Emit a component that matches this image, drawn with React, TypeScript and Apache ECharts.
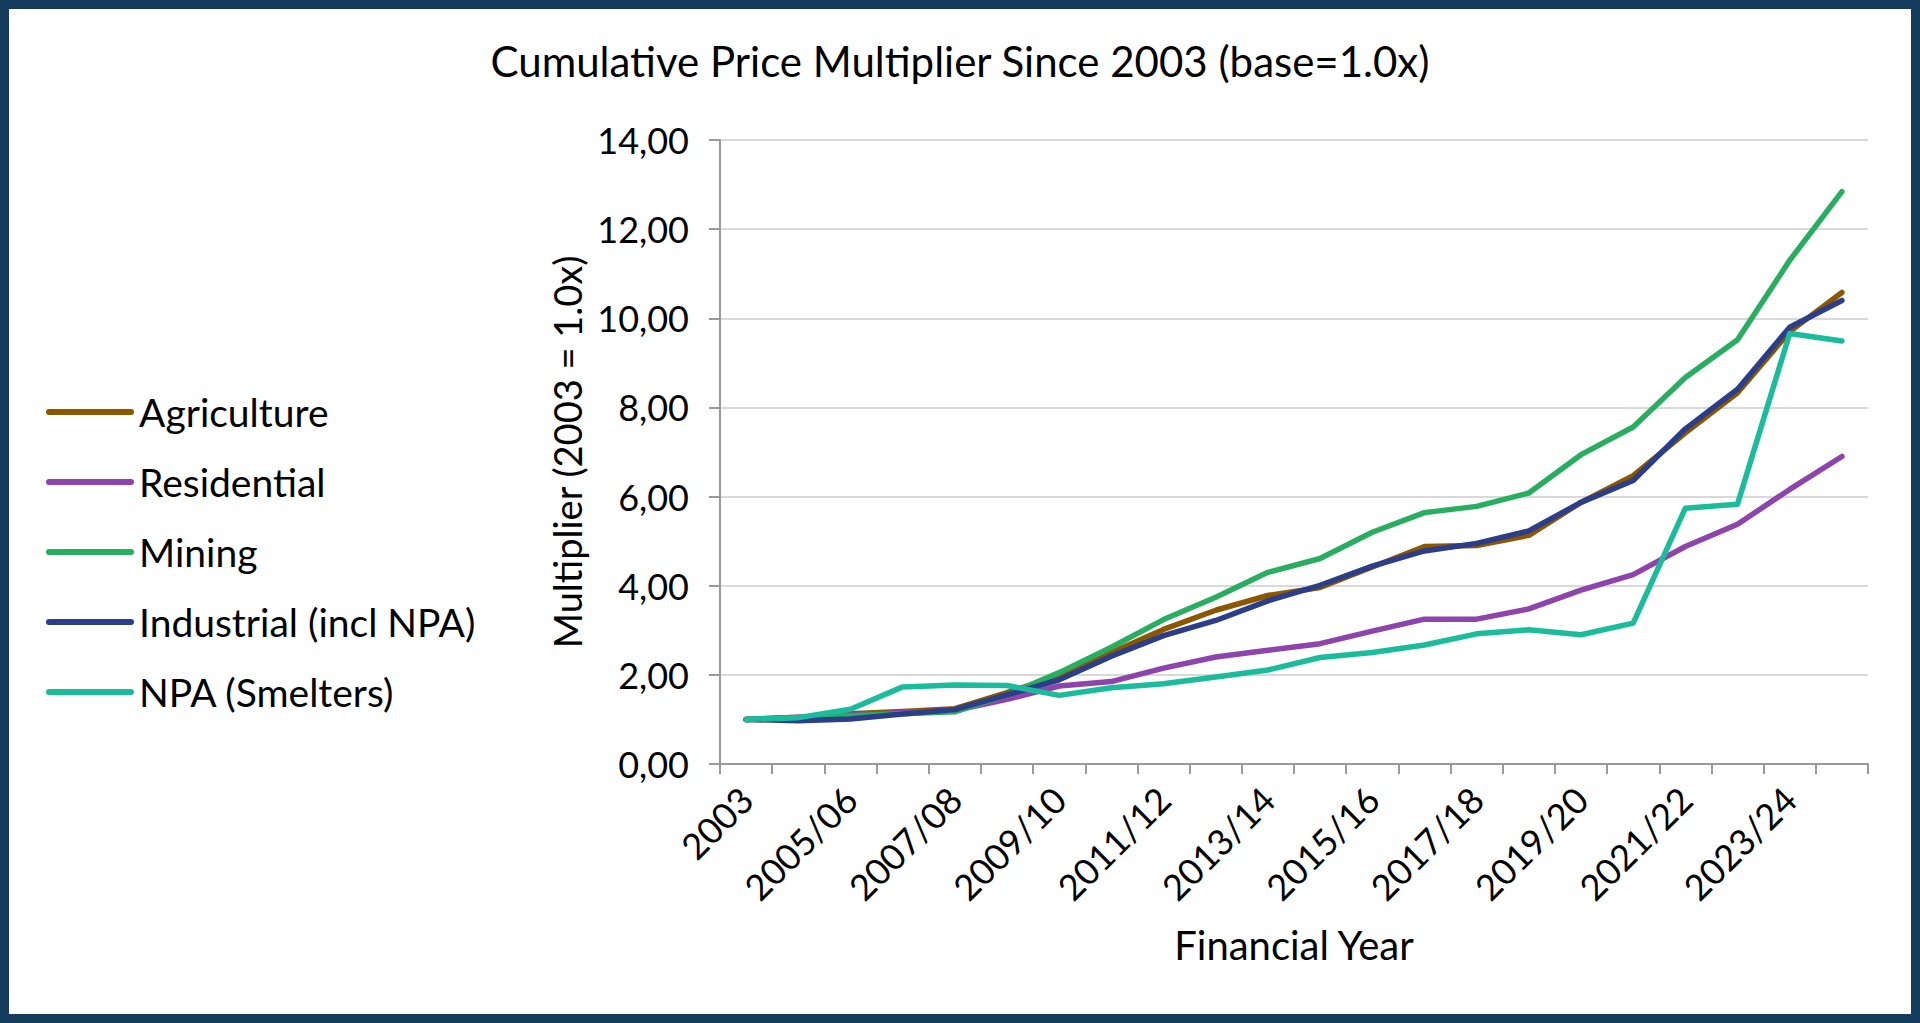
import React, { useEffect, useRef } from "react";
import * as echarts from "echarts";

const categories = [
  "2003", "2004/05", "2005/06", "2006/07", "2007/08", "2008/09", "2009/10", "2010/11",
  "2011/12", "2012/13", "2013/14", "2014/15", "2015/16", "2016/17", "2017/18", "2018/19",
  "2019/20", "2020/21", "2021/22", "2022/23", "2023/24", "2024/25",
];

const agriculture = [1.0, 1.05, 1.13, 1.18, 1.24, 1.6, 1.98, 2.5, 3.02, 3.45, 3.78, 3.96, 4.42, 4.88, 4.9, 5.13, 5.87, 6.47, 7.43, 8.33, 9.7, 10.58];
const residential = [1.0, 1.05, 1.1, 1.15, 1.2, 1.45, 1.75, 1.85, 2.15, 2.4, 2.55, 2.7, 2.98, 3.25, 3.25, 3.48, 3.9, 4.25, 4.88, 5.38, 6.16, 6.9];
const mining = [1.0, 1.03, 1.08, 1.13, 1.17, 1.55, 2.05, 2.62, 3.24, 3.74, 4.3, 4.61, 5.2, 5.64, 5.78, 6.08, 6.94, 7.56, 8.67, 9.52, 11.3, 12.84];
const industrial = [1.0, 0.97, 1.01, 1.12, 1.22, 1.55, 1.89, 2.42, 2.88, 3.22, 3.66, 4.01, 4.44, 4.78, 4.95, 5.23, 5.87, 6.36, 7.52, 8.41, 9.8, 10.4];
const npa = [1.0, 1.04, 1.23, 1.73, 1.77, 1.76, 1.54, 1.71, 1.8, 1.95, 2.11, 2.39, 2.5, 2.67, 2.92, 3.01, 2.9, 3.16, 5.74, 5.83, 9.66, 9.49];

const seriesNames = ["Agriculture", "Residential", "Mining", "Industrial (incl NPA)", "NPA (Smelters)"];
const seriesColors = ["#8B5700", "#8E44AD", "#27AE60", "#2C3E8A", "#1ABC9C"];
const seriesData = [agriculture, residential, mining, industrial, npa];

const FONT = "Lato, 'Noto Sans', sans-serif";

export default function App() {
  const ref = useRef<HTMLDivElement>(null);

  useEffect(() => {
    if (!ref.current) return;
    const chart = echarts.init(ref.current, null, { renderer: "svg" });
    chart.setOption({
      animation: false,
      backgroundColor: "#ffffff",
      title: {
        text: "Cumulative Price Multiplier Since 2003 (base=1.0x)",
        left: "center",
        top: 35,
        textStyle: { fontFamily: FONT, fontSize: 42, fontWeight: "normal", color: "#000" },
      },
      legend: {
        orient: "vertical",
        left: 41,
        top: 387,
        itemWidth: 88,
        itemHeight: 6,
        itemGap: 30,
        icon: "path://M3,0 H85 A3,3 0 0 1 85,6 H3 A3,3 0 0 1 3,0 Z",
        textStyle: { fontFamily: FONT, fontSize: 39, color: "#000", lineHeight: 40 },
        data: seriesNames,
      },
      grid: { left: 720, right: 52, top: 140, bottom: 259, containLabel: false },
      xAxis: {
        type: "category",
        data: categories,
        boundaryGap: true,
        name: "Financial Year",
        nameLocation: "middle",
        nameGap: 161,
        nameTextStyle: { fontFamily: FONT, fontSize: 40, color: "#000" },
        axisLine: { lineStyle: { color: "#999999", width: 2 } },
        axisTick: { show: true, length: 10, interval: 0, lineStyle: { color: "#999999", width: 2 } },
        axisLabel: {
          interval: 1,
          rotate: 45,
          margin: 29,
          fontFamily: FONT,
          fontSize: 36,
          color: "#000",
        },
      },
      yAxis: {
        type: "value",
        min: 0,
        max: 14,
        interval: 2,
        name: "Multiplier (2003 = 1.0x)",
        nameLocation: "middle",
        nameGap: 128,
        nameTextStyle: { fontFamily: FONT, fontSize: 38, color: "#000" },
        axisLine: { show: true, lineStyle: { color: "#999999", width: 2 } },
        axisTick: { show: true, length: 11, lineStyle: { color: "#999999", width: 2 } },
        splitLine: { show: true, lineStyle: { color: "#d9d9d9", width: 2 } },
        axisLabel: {
          margin: 31,
          fontFamily: FONT,
          fontSize: 36,
          color: "#000",
          formatter: (v: number) => v.toFixed(2).replace(".", ","),
        },
      },
      series: seriesNames.map((name, i) => ({
        name,
        type: "line",
        data: seriesData[i],
        symbol: "none",
        color: seriesColors[i],
        lineStyle: { width: 5.5, color: seriesColors[i], cap: "round", join: "round" },
      })),
    });
    return () => chart.dispose();
  }, []);

  return (
    <div
      style={{
        position: "fixed",
        left: 0,
        top: 0,
        width: 1920,
        height: 1023,
        background: "#fff",
      }}
    >
      <div ref={ref} style={{ position: "absolute", left: 0, top: 0, width: 1920, height: 1023 }} />
      <div
        style={{
          position: "absolute",
          left: 0,
          top: 0,
          width: 1920,
          height: 1023,
          boxSizing: "border-box",
          border: "9px solid #143A5C",
          pointerEvents: "none",
        }}
      />
    </div>
  );
}
